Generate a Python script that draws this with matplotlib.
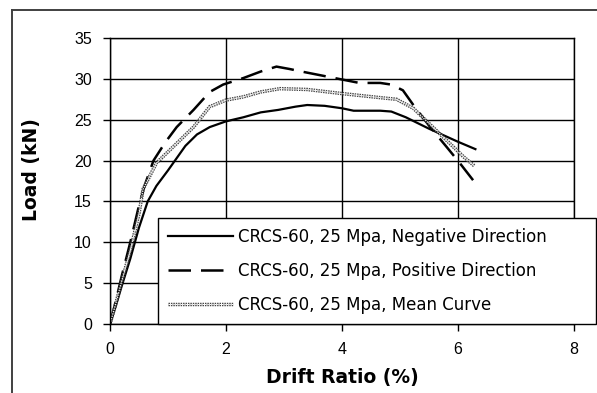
import matplotlib.pyplot as plt
from matplotlib import patheffects as pe
from matplotlib.lines import Line2D

plt.rcParams["font.family"] = ["Liberation Sans", "DejaVu Sans"]

# drift ratio (%) / load (kN)
neg_x = [0, 0.1, 0.2, 0.35, 0.5, 0.65, 0.8, 1.0, 1.12, 1.3, 1.5, 1.72, 2.0, 2.3,
         2.6, 2.9, 3.2, 3.4, 3.7, 4.0, 4.2, 4.66, 4.85, 5.1, 5.5, 6.0, 6.3]
neg_y = [0, 2.2, 4.6, 8.0, 11.8, 15.0, 16.9, 18.8, 20.0, 21.8, 23.2, 24.1, 24.8, 25.3,
         25.9, 26.2, 26.6, 26.8, 26.7, 26.4, 26.1, 26.1, 26.0, 25.3, 23.9, 22.3, 21.4]

pos_x = [0, 0.1, 0.2, 0.35, 0.5, 0.6, 0.75, 0.95, 1.15, 1.44, 1.72, 1.95, 2.3, 2.6,
         2.87, 3.1, 3.3, 3.8, 4.3, 4.66, 4.85, 5.05, 5.23, 5.52, 5.8, 6.03, 6.26]
pos_y = [0, 2.8, 5.8, 10.0, 14.5, 17.0, 20.0, 22.2, 24.1, 26.2, 28.4, 29.3, 30.1, 30.9,
         31.5, 31.2, 30.9, 30.2, 29.5, 29.5, 29.3, 28.6, 26.8, 24.1, 21.7, 19.7, 17.6]

mean_x = [0, 0.1, 0.2, 0.35, 0.5, 0.57, 0.8, 1.15, 1.44, 1.72, 2.0, 2.3, 2.6, 2.93,
          3.4, 4.0, 4.66, 4.94, 5.23, 5.52, 5.8, 6.09, 6.29]
mean_y = [0, 2.5, 5.2, 9.0, 13.5, 16.5, 19.7, 22.1, 24.1, 26.6, 27.4, 27.8, 28.4, 28.8,
          28.7, 28.2, 27.7, 27.5, 26.4, 24.4, 22.5, 20.5, 19.3]

labels = ["CRCS-60, 25 Mpa, Negative Direction",
          "CRCS-60, 25 Mpa, Positive Direction",
          "CRCS-60, 25 Mpa, Mean Curve"]

W, H = 597, 393
fig = plt.figure(figsize=(W / 100, H / 100), dpi=100)
ax = fig.add_axes([110 / W, 1 - 324 / H, 464 / W, 286 / H])

# outer chart-area frame (cut by the image edge at right and bottom)
fig.add_artist(Line2D([12 / W, 1], [1 - 10 / H, 1 - 10 / H], color="#404040", lw=1.4))
fig.add_artist(Line2D([12 / W, 12 / W], [0, 1 - 10 / H], color="#404040", lw=1.4))

ax.plot(neg_x, neg_y, color="black", lw=1.6, label=labels[0])
ax.plot(pos_x, pos_y, color="black", lw=1.8, ls=(0, (9, 4)), label=labels[1])
ax.plot(mean_x, mean_y, color="white", lw=0.7, ls=(0, (1.5, 1)), label=labels[2],
        path_effects=[pe.Stroke(linewidth=2.5, foreground="#444444"), pe.Normal()])

ax.set_xlim(0, 8)
ax.set_ylim(0, 35)
ax.set_xticks(range(0, 9, 2))
ax.set_yticks(range(0, 36, 5))
ax.grid(True, color="black", lw=1.0)
ax.set_axisbelow(True)
for s in ax.spines.values():
    s.set_color("black")
    s.set_linewidth(1.0)
ax.tick_params(direction="out", length=5, width=1, labelsize=11.5, pad=8)

lab_font = dict(family=["DejaVu Sans"], fontsize=13.5, fontweight="bold")
ax.set_xlabel("Drift Ratio (%)", **lab_font)
ax.set_ylabel("Load (kN)", **lab_font)
ax.xaxis.set_label_coords(0.5, -0.155)
ax.yaxis.set_label_coords(-0.148, 0.54)

leg = ax.legend(loc="lower left", bbox_to_anchor=(158 / W, 1 - 324 / H, 438 / W, 101 / H),
                bbox_transform=fig.transFigure, mode="expand",
                prop=dict(family=["DejaVu Sans"], size=12),
                frameon=True, fancybox=False, framealpha=1, edgecolor="black",
                borderpad=0.62, labelspacing=0.95, handlelength=3.9, handletextpad=0.25,
                borderaxespad=0)
leg.get_frame().set_linewidth(1.0)

fig.savefig("out.png", dpi=100)
